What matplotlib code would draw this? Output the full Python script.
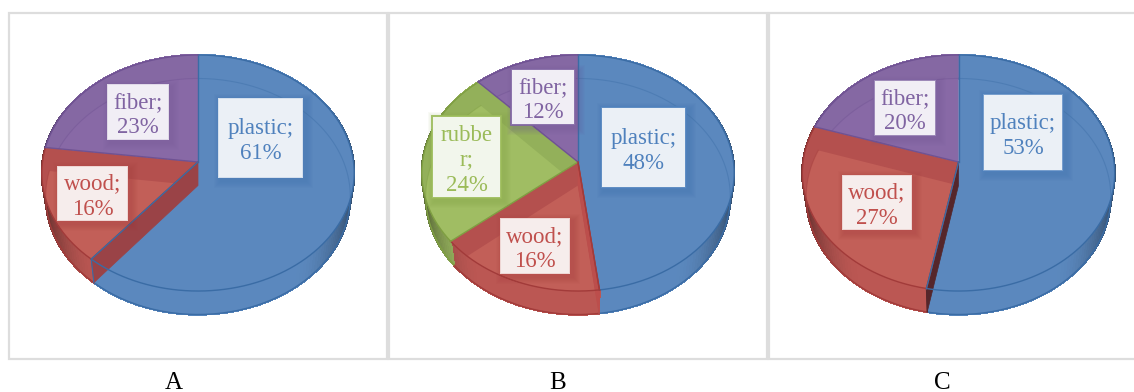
import numpy as np
import matplotlib
matplotlib.use("Agg")
import matplotlib.pyplot as plt
from matplotlib.patches import Polygon, Rectangle
from matplotlib.collections import PolyCollection
from matplotlib.colors import to_rgb

# Material shares per panel, clockwise from twelve o'clock
panel_names = ["A", "B", "C"]
materials_a = ["plastic", "wood", "fiber"]
shares_a = [61, 16, 23]
materials_b = ["plastic", "wood", "rubber", "fiber"]
shares_b = [48, 16, 24, 12]
materials_c = ["plastic", "wood", "fiber"]
shares_c = [53, 27, 20]

# Per-material colours: text/edge, top face, inner floor
TEXT = {"plastic": "#4F81BD", "wood": "#C0504D", "rubber": "#9BBB59", "fiber": "#8064A2"}
FACE = {"plastic": "#5B88BE", "wood": "#B4504E", "rubber": "#93B05A", "fiber": "#8568A3"}
FLOOR = {"plastic": "#5B88BE", "wood": "#C25F58", "rubber": "#A0BD63", "fiber": "#8869A6"}
EDGE = {"plastic": "#3A6CA5", "wood": "#A23B3A", "rubber": "#7F9F42", "fiber": "#6F5293"}
BOX = {"plastic": "#EBF0F6", "wood": "#F6EDEC", "rubber": "#F2F6EC", "fiber": "#F1EEF5"}

# Layout in pixels
HUB_Y = 162
RX = 155.5
RY = 117
PERSP = 0.0932
DEPTH = 23.5
FLOOR_SCALE = 0.975
panels = [
    dict(name="A", mats=materials_a, vals=shares_a, cx=198, frame=(8.5, 387), cap_x=174, wall="#9A4347",
         boxes=[(218, 98, 303, 178, None), (57, 166, 128, 221, None), (107, 84, 169, 140, None)]),
    dict(name="B", mats=materials_b, vals=shares_b, cx=578, frame=(389, 766.5), cap_x=558, wall="#BC4E4C",
         boxes=[(601, 107, 686, 188, None), (500, 218, 570, 274, None),
                (432, 116, 501, 198, "rubbe\nr;\n24%"), (511, 69, 575, 125, None)]),
    dict(name="C", mats=materials_c, vals=shares_c, cx=958.5, frame=(769, 1140), cap_x=942, wall="#55262B",
         boxes=[(983, 94, 1063, 171, None), (842, 175, 912, 230, None), (874, 80, 936, 136, None)]),
]
BORDER_ALPHA = {"A": 0.15, "B": 0.9, "C": 0.75}


def rim(cx, theta):
    """Project a rim angle (radians, clockwise from top) onto the tilted disc."""
    u, v = np.sin(theta), np.cos(theta)
    w = 1 + PERSP * v
    return cx + RX * u / w, HUB_Y - RY * v / w


def floor_rim(cx, theta):
    """Same rim on the lower disc, which sits slightly narrower and lower."""
    x, y = rim(cx, theta)
    return cx + FLOOR_SCALE * (x - cx), y + DEPTH


def wedge_xy(cx, start, stop, rim_fn=rim, hub_drop=0.0):
    t = np.linspace(start, stop, max(int(np.degrees(stop - start)), 2) + 1)
    x, y = rim_fn(cx, t)
    return np.column_stack([np.r_[cx, x], np.r_[HUB_Y + hub_drop, y]])


def shaded(color, frac):
    c = np.array(to_rgb(color))
    dark = 1 - 0.42 * np.clip((abs(frac) - 0.62) / 0.38, 0, 1) ** 2
    return tuple(c * dark)


fig = plt.figure(figsize=(11.34, 3.92), dpi=100, facecolor="white")
ax = fig.add_axes([0, 0, 1, 1])
ax.set_xlim(0, 1134)
ax.set_ylim(392, 0)
ax.axis("off")

for p in panels:
    x0, x1 = p["frame"]
    ax.add_patch(Rectangle((x0, 12.5), x1 - x0, 346.5, fc="white", ec="#DDDDDD", lw=1.6, zorder=0))
    ax.text(p["cap_x"], 383, p["name"], ha="center", va="center", fontsize=18,
            family="Liberation Serif", color="black", clip_on=False)

    cx = p["cx"]
    bounds = np.radians(np.r_[0, np.cumsum(p["vals"])] * 3.6)
    bounds[-1] = 2 * np.pi

    # Outer side wall, shaded towards the silhouette
    for mat, a, b in zip(p["mats"], bounds[:-1], bounds[1:]):
        t = np.linspace(a, b, max(int(np.degrees(b - a) / 1.5), 2) + 1)
        x, y = rim(cx, t)
        fx, fy = floor_rim(cx, t)
        quads = [[(x[i], y[i]), (x[i + 1], y[i + 1]), (fx[i + 1], fy[i + 1]), (fx[i], fy[i])]
                 for i in range(len(t) - 1)]
        cols = [shaded(FLOOR[mat] if mat != "wood" else "#BB5753", (x[i] - cx) / RX) for i in range(len(t) - 1)]
        ax.add_collection(PolyCollection(quads, facecolors=cols, edgecolors=cols, linewidths=1.0,
                                         antialiaseds=False, zorder=1))
        ax.plot(fx, fy, color=EDGE[mat], lw=1.0, zorder=1.5)

    # Top faces with the floor seen through the glass
    for mat, a, b in zip(p["mats"], bounds[:-1], bounds[1:]):
        xy = wedge_xy(cx, a, b)
        top = Polygon(xy, closed=True, fc=FACE[mat], ec="none", zorder=2)
        ax.add_patch(top)
        floor = Polygon(wedge_xy(cx, a, b, floor_rim, DEPTH), closed=True, fc=FLOOR[mat], ec="none", zorder=2.1)
        ax.add_patch(floor)
        floor.set_clip_path(top)
        t = np.linspace(a, b, 200)
        fx, fy = floor_rim(cx, t)
        inner, = ax.plot(fx, fy, color=EDGE[mat], lw=0.8, alpha=0.4, zorder=2.2)
        inner.set_clip_path(top)

    # Wall between plastic and the neighbouring slice
    tx, ty = rim(cx, bounds[1])
    bx, by = floor_rim(cx, bounds[1])
    wall = [(cx, HUB_Y), (cx, HUB_Y + DEPTH), (bx, by), (tx, ty)]
    ax.add_patch(Polygon(wall, closed=True, fc=p["wall"], ec=p["wall"], lw=0.5, zorder=2.4))
    ax.plot([tx, bx], [ty, by], color=EDGE["plastic"] if p["name"] == "A" else p["wall"], lw=0.8, zorder=2.5)

    # Rim outlines and radial edges
    for mat, a, b in zip(p["mats"], bounds[:-1], bounds[1:]):
        t = np.linspace(a, b, 200)
        x, y = rim(cx, t)
        ax.plot(x, y, color=EDGE[mat], lw=1.0, zorder=2.6)
        ex, ey = rim(cx, a)
        ax.plot([cx, ex], [HUB_Y, ey], color=EDGE[mat], lw=1.0, zorder=2.6)
    ex, ey = rim(cx, bounds[1])
    ax.plot([cx, ex], [HUB_Y, ey], color=EDGE["plastic"] if p["name"] != "B" else EDGE["wood"], lw=1.0, zorder=2.7)

    # Data labels with a soft drop shadow
    for mat, val, (bx0, by0, bx1, by1, custom) in zip(p["mats"], p["vals"], p["boxes"]):
        w, h = bx1 - bx0, by1 - by0
        for grow in np.arange(7, 0, -1):
            ax.add_patch(Rectangle((bx0 + 3 - grow, by0 + 3 - grow), w + 2 * grow, h + 2 * grow,
                                   fc=EDGE[mat], ec="none", alpha=0.045, zorder=3))
        ax.add_patch(Rectangle((bx0, by0), w, h, fc=BOX[mat], ec="none", zorder=3.1))
        ax.add_patch(Rectangle((bx0, by0), w, h, fc="none", ec=TEXT[mat], lw=1.4,
                               alpha=BORDER_ALPHA[p["name"]] if mat != "wood" else 0.15, zorder=3.2))
        label = custom if custom else f"{mat};\n{val}%"
        ax.text((bx0 + bx1) / 2, (by0 + by1) / 2 + 3, label, ha="center", va="center", color=TEXT[mat],
                fontsize=16.5, family="Liberation Serif", linespacing=1.25, zorder=4)

fig.savefig("out.png", dpi=100, facecolor="white")
